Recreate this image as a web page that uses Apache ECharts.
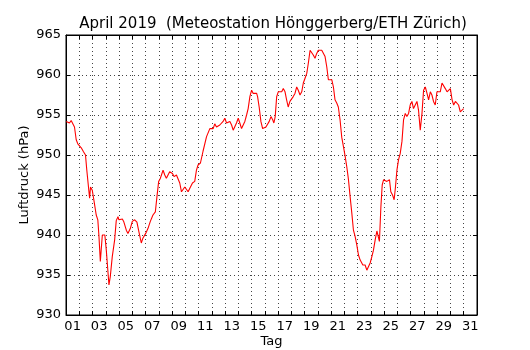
<!DOCTYPE html>
<html><head><meta charset="utf-8">
<script src="https://cdn.jsdelivr.net/npm/echarts@6/dist/echarts.min.js"></script>
<style>html,body{margin:0;padding:0;background:#fff}#c{width:530px;height:350px}</style>
</head><body><div id="c"></div>
<script>
// Day labels (centre of each day slot)
var dayLabels = ['01','02','03','04','05','06','07','08','09','10','11','12','13','14','15','16','17','18','19','20','21','22','23','24','25','26','27','28','29','30','31'];
// Pressure ticks
var yTicks = [930, 935, 940, 945, 950, 955, 960, 965];
// Time in days since 1 April 00:00
var times = [0.02,0.14,0.26,0.39,0.51,0.64,0.77,0.89,1.02,1.15,1.32,1.47,1.57,1.72,1.78,1.85,1.98,2.10,2.28,2.40,2.48,2.59,2.74,2.83,2.93,3.04,3.24,3.34,3.49,3.67,3.79,3.92,3.99,4.10,4.25,4.35,4.55,4.67,4.85,5.00,5.18,5.35,5.50,5.68,5.80,6.01,6.18,6.36,6.56,6.74,6.86,6.99,7.12,7.20,7.32,7.45,7.57,7.69,7.82,8.03,8.15,8.33,8.45,8.58,8.71,8.83,8.96,9.09,9.21,9.33,9.54,9.71,9.84,9.96,10.14,10.34,10.60,10.85,10.98,11.10,11.22,11.35,11.47,11.60,11.73,11.85,11.98,12.11,12.23,12.36,12.49,12.61,12.74,12.86,12.99,13.11,13.24,13.36,13.49,13.62,13.74,13.87,14.00,14.12,14.25,14.38,14.45,14.57,14.70,14.83,14.95,15.08,15.21,15.33,15.46,15.59,15.68,15.78,15.89,16.01,16.14,16.27,16.39,16.52,16.64,16.76,16.89,17.02,17.14,17.27,17.40,17.52,17.65,17.78,17.90,18.03,18.16,18.28,18.41,18.53,18.65,18.78,18.91,19.03,19.16,19.29,19.41,19.54,19.67,19.79,19.92,20.05,20.17,20.29,20.42,20.54,20.67,20.80,20.92,21.05,21.18,21.30,21.43,21.56,21.68,21.81,21.93,22.06,22.18,22.31,22.39,22.56,22.69,22.81,22.94,23.07,23.19,23.32,23.45,23.52,23.64,23.75,23.85,23.95,24.07,24.20,24.32,24.40,24.50,24.63,24.75,24.85,24.96,25.08,25.21,25.34,25.46,25.59,25.71,25.84,25.96,26.09,26.21,26.34,26.47,26.59,26.72,26.85,26.97,27.10,27.23,27.35,27.48,27.60,27.72,27.85,27.98,28.10,28.23,28.36,28.48,28.61,28.74,28.86,28.99,29.12,29.24,29.37,29.49,29.61,29.74,29.87,29.99];
// Air pressure in hPa
var pressure = [954.2,954.4,954.0,954.3,954.4,953.5,951.9,951.4,951.6,950.9,950.4,950.0,948.1,945.6,944.6,946.0,945.6,944.4,942.5,941.9,940.0,936.7,940.0,940.2,940.0,938.1,933.75,934.8,937.3,939.4,941.8,942.3,941.9,941.9,942.0,941.7,940.6,940.2,940.8,941.7,941.9,941.6,940.4,939.0,939.6,940.2,940.8,941.7,942.5,942.9,944.8,946.7,947.1,947.5,948.1,947.5,947.1,947.3,947.9,947.7,947.3,947.5,947.3,946.5,945.4,945.2,946.0,946.25,945.4,945.8,946.5,946.7,948.1,948.75,949.0,950.5,952.3,953.3,953.5,953.3,953.9,953.5,953.4,953.75,953.9,954.2,954.6,954.0,953.75,954.2,953.75,953.1,952.9,954.0,954.6,954.0,953.3,953.5,954.2,955.0,955.8,957.3,958.1,957.7,957.5,957.7,957.3,956.0,954.2,953.3,953.3,953.5,953.3,954.2,954.8,954.4,954.0,954.8,957.3,957.9,957.7,957.9,958.3,957.9,956.9,956.0,956.7,956.9,957.3,957.7,958.5,958.1,957.5,957.9,959.0,959.6,960.2,961.5,963.1,963.3,962.5,962.1,962.7,963.1,962.9,963.1,962.9,962.3,961.0,959.4,959.2,959.4,958.5,956.9,956.5,956.0,954.4,952.2,951.1,949.9,948.5,947.0,944.8,942.7,940.6,939.8,938.8,937.5,936.9,936.7,936.25,936.25,935.6,935.4,936.5,937.3,938.1,939.4,940.5,940.6,939.2,943.5,946.25,946.9,946.7,946.7,946.5,946.9,945.4,945.0,944.4,946.0,948.1,949.4,950.2,951.7,954.4,955.2,954.8,955.2,956.25,956.7,955.8,956.25,956.7,955.6,953.1,955.2,958.1,958.5,957.7,956.9,957.9,957.5,956.7,956.25,957.9,957.9,957.9,959.0,959.2,958.3,957.9,957.9,958.3,956.9,956.25,956.7,956.7,956.25,955.4,955.4,955.8];

var points = times.map(function(t, i){ return [t, pressure[i]]; });
var font = 'DejaVu Sans';
var gridLine = {show:true, lineStyle:{color:'#444', width:1, type:[1,3]}};

var chart = echarts.init(document.getElementById('c'), null, {renderer:'canvas'});
chart.setOption({
  animation:false,
  backgroundColor:'#fff',
  title:{text:'April 2019  (Meteostation Hönggerberg/ETH Zürich)', left:268, textAlign:'center', top:12,
    textStyle:{fontFamily:font, fontSize:15, fontWeight:'normal', color:'#000'}},
  grid:{left:66, top:35, right:53, bottom:35, show:true, borderColor:'#000', borderWidth:1, backgroundColor:'transparent',
    containLabel:false, outerBoundsMode:'none'},
  xAxis:[
    {type:'category', data:dayLabels, boundaryGap:true, position:'bottom',
     name:'Tag', nameLocation:'middle', nameGap:20, nameMoveOverlap:false,
     nameTextStyle:{fontFamily:font, fontSize:13, color:'#000'},
     axisLine:{show:true, lineStyle:{color:'#000', width:1}},
     axisTick:{show:true, inside:true, length:4, interval:0, lineStyle:{color:'#000'}},
     axisLabel:{interval:1, fontFamily:font, fontSize:13, color:'#000', margin:5},
     splitLine:{show:true, interval:0, lineStyle:{color:'#444', width:1, type:[1,3]}}},
    {type:'category', data:dayLabels, boundaryGap:true, position:'top',
     axisLine:{show:true, lineStyle:{color:'#000', width:1}},
     axisTick:{show:true, inside:true, length:4, interval:0, lineStyle:{color:'#000'}},
     axisLabel:{show:false}, splitLine:{show:false}},
    {type:'value', min:0, max:31, show:false, splitLine:{show:false}}
  ],
  yAxis:[
    {type:'value', min:930, max:965, interval:5, position:'left',
     name:'Luftdruck (hPa)', nameLocation:'middle', nameGap:35, nameRotate:90, nameMoveOverlap:false,
     nameTextStyle:{fontFamily:font, fontSize:13, color:'#000'},
     axisLine:{show:true, lineStyle:{color:'#000', width:1}},
     axisTick:{show:true, inside:true, length:4, lineStyle:{color:'#000'}},
     axisLabel:{fontFamily:font, fontSize:13, color:'#000', margin:5},
     splitLine:gridLine},
    {type:'value', min:930, max:965, interval:5, position:'right',
     axisLine:{show:true, lineStyle:{color:'#000', width:1}},
     axisTick:{show:true, inside:true, length:4, lineStyle:{color:'#000'}},
     axisLabel:{show:false}, splitLine:{show:false}}
  ],
  series:[{type:'line', xAxisIndex:2, yAxisIndex:0, data:points, showSymbol:false, symbol:'none',
    lineStyle:{color:'#ff0000', width:1.1}, z:5}]
});
</script></body></html>
